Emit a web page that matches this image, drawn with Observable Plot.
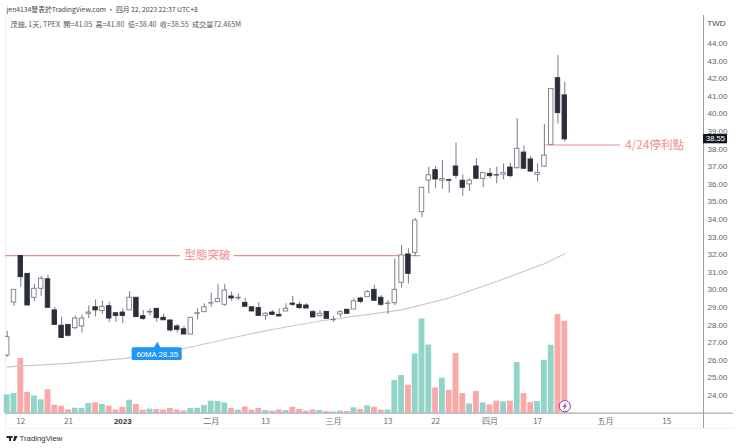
<!DOCTYPE html>
<html><head><meta charset="utf-8">
<script src="https://cdn.jsdelivr.net/npm/d3@7"></script>
<script src="https://cdn.jsdelivr.net/npm/@observablehq/plot@0.6"></script>
<style>html,body{margin:0;padding:0;background:#fff}svg{display:block}</style>
</head><body><div id="chart"></div>
<script>
const FONT = '"Liberation Sans","Noto Sans CJK TC",sans-serif';
const CJK = '"Noto Sans CJK TC","Liberation Sans",sans-serif';

// Trading-day index: 0 is 12 Dec 2022
const firstBar = -2;
const opens = [26.27,29.28,31.92,30.91,29.55,30.06,30.60,28.83,27.96,28.01,27.82,27.92,28.64,29.01,28.79,29.07,28.67,28.71,28.83,29.55,28.50,28.71,28.92,28.41,28.26,27.92,27.76,27.46,28.64,28.73,29.22,29.30,29.15,29.62,29.51,29.26,29.01,28.96,28.52,28.71,28.58,28.77,29.22,29.15,29.11,28.73,28.50,28.75,28.27,28.60,28.87,28.88,29.51,29.58,30.00,29.55,29.20,29.24,30.40,32.01,32.10,34.41,36.21,36.80,36.21,36.23,37.01,36.20,35.99,37.01,36.31,36.59,36.51,36.54,36.95,36.91,37.80,37.41,36.54,37.01,38.24,42.03,41.05];
const highs = [27.65,30.00,31.92,30.91,30.30,30.76,30.83,29.01,28.45,28.01,28.52,28.56,29.09,29.43,29.35,29.30,28.67,28.92,29.89,29.55,28.83,28.90,28.92,28.60,28.26,28.03,27.92,28.41,28.92,29.21,29.81,30.30,30.29,29.87,29.77,29.52,29.01,29.26,28.71,28.83,28.92,29.21,29.62,29.30,29.21,28.83,28.83,28.75,28.49,28.83,28.87,29.49,29.58,29.96,30.25,29.68,29.39,31.76,32.52,32.33,34.05,35.80,36.97,37.01,37.35,36.31,38.35,36.54,36.31,37.46,36.68,36.91,36.97,37.16,37.20,39.72,38.18,37.59,37.16,39.39,41.42,43.31,41.80];
const lows = [26.16,29.07,30.15,29.11,29.35,29.62,28.98,28.01,27.27,27.31,27.73,27.54,28.37,28.45,28.60,28.14,28.14,28.07,28.83,28.45,28.26,28.52,28.16,28.27,27.62,27.54,27.46,27.46,28.29,28.73,29.01,29.30,29.07,29.35,29.39,29.04,28.77,28.52,28.26,28.54,28.45,28.77,29.05,28.88,28.94,28.43,28.45,28.35,28.16,28.41,28.64,28.88,29.21,29.58,29.38,29.05,28.60,29.11,30.09,30.34,31.89,34.09,35.46,35.74,35.72,35.49,36.31,35.32,35.59,36.25,35.80,36.31,36.02,36.25,36.37,36.87,36.84,36.69,36.12,36.95,38.24,39.43,38.40];
const closes = [27.31,30.00,30.72,29.11,30.06,30.63,28.98,28.01,27.27,27.39,28.37,28.37,28.71,28.83,29.04,28.37,28.52,28.52,29.55,28.45,28.35,28.75,28.39,28.27,27.69,27.73,27.46,28.41,28.67,29.01,29.24,29.47,29.96,29.51,29.55,29.04,28.77,28.52,28.64,28.58,28.49,28.92,29.15,28.96,28.94,28.43,28.64,28.35,28.30,28.73,28.64,29.35,29.32,29.87,29.38,29.15,29.22,30.00,31.96,30.91,33.94,35.80,36.51,36.27,36.29,36.20,36.48,35.80,36.21,36.31,36.63,36.46,36.50,36.63,36.46,38.01,36.88,36.72,36.65,37.63,41.42,40.04,38.55];
const volumes = [14.4,15.5,43.1,16.3,13.6,10.5,18.4,6.3,5.5,2.6,3.9,3.7,7.6,8.1,6.9,5.5,2.6,4.7,10.2,6.9,2.4,3.2,2.9,2.6,3.7,2.6,1.8,3.7,3.9,6.1,9.5,9.2,8.1,3.7,2.4,5.0,2.4,3.7,2.1,1.6,2.6,2.1,4.7,2.9,1.6,2.6,2.1,1.3,1.0,1.6,1.3,4.2,2.9,5.8,4.7,2.4,2.6,25.8,29.7,22.1,46.7,74.3,53.8,19.9,27.6,18.1,47.0,15.5,7.3,17.1,8.1,6.5,9.5,8.9,9.5,39.9,15.5,8.4,9.2,41.7,53.6,77.7,72.465];

const maIndex = [-2,7,15,20,24,34,37,44,56,63,70,72,75,77,78,80];
const maValues = [25.62,25.82,26.09,26.39,26.67,27.52,27.75,28.23,28.86,29.54,30.47,30.76,31.2,31.48,31.67,32.05];

const priceTicks = d3.range(24,45);
const xTickIndex = [0,7,28,36,46,54,61,69,76,86,95];
const xTickLabels = ["12","21","二月","13","三月","13","22","四月","17","五月","15"];
const yearTickIndex = [15];
const yearTickLabels = ["2023"];

const header = "jen4134發表於TradingView.com • 四月 22, 2023 22:37 UTC+8";
const legend = "茂迪, 1天, TPEX\u00a0\u00a0開=41.05\u00a0\u00a0高=41.80\u00a0\u00a0低=38.40\u00a0\u00a0收=38.55\u00a0\u00a0成交量72.465M";
const breakoutPrice = 31.95, breakoutText = "型態突破";
const targetPrice = 38.23, targetText = "4/24停利點";
const lastPrice = 38.55;
const maLabel = "60MA 28.35";

// frame limits, in index and price units
const xMin = -2.25, xMax = 100.4, yMin = 22.99, yMax = 45.59, yLow = 22.12;

const bars = opens.map((o,k)=>({i:k+firstBar,o,h:highs[k],l:lows[k],c:closes[k],v:volumes[k],up:closes[k]>=o}));
const ma = maIndex.map((i,k)=>({i,p:maValues[k]}));
// volume pane shares the frame: zero at its floor, 1 M = 0.0721 on the price axis
const volToY = d3.scaleLinear().domain([0,100]).range([yMin,yMin+7.21]);

const GREY="#787b86", DARK="#2a2e39", PINK="#f49c9c", LINE="#f28a8a", AXIS="#9a9da6", TXT="#55585f";

const bolt = {draw(c){c.moveTo(1.6,-4);c.lineTo(-2.4,0.7);c.lineTo(-0.2,0.7);c.lineTo(-1.6,4);c.lineTo(2.4,-0.7);c.lineTo(0.2,-0.7);c.closePath();}};
const tvLogo = {draw(c){
  c.moveTo(-5.5,-2.5);c.lineTo(-1,-2.5);c.lineTo(-1,2.5);c.lineTo(-3,2.5);c.lineTo(-3,-0.5);c.lineTo(-5.5,-0.5);c.closePath();
  c.moveTo(0.8,-1.5);c.arc(-0.2,-1.5,1,0,2*Math.PI);c.closePath();
  c.moveTo(2.2,-2.5);c.lineTo(5.5,-2.5);c.lineTo(3.2,2.5);c.lineTo(1,2.5);c.closePath();
}};

const fig = Plot.plot({
  width:740, height:448,
  marginLeft:5, marginRight:37, marginTop:15, marginBottom:35.3,
  style:{fontFamily:FONT, background:"#fff", overflow:"visible"},
  x:{domain:[xMin,xMax]},
  y:{domain:[yMin,yMax]},
  marks:[
    Plot.ruleX([xMin],{y1:yLow,y2:yMax,stroke:"#eeeeee",strokeWidth:1}),
    Plot.ruleY([yLow],{x1:xMin,x2:104.8,stroke:"#f3f3f3",strokeWidth:1}),

    Plot.rect(bars,{x1:d=>d.i-0.43,x2:d=>d.i+0.43,y1:()=>yMin,y2:d=>volToY(d.v),fill:d=>d.up?"#93d4c9":"#f8a9a8"}),

    Plot.ruleY([yMin],{x1:xMin,x2:104.8,stroke:"#a8abb4",strokeWidth:1.3}),
    Plot.ruleX([xMax],{y1:yLow,y2:yMax,stroke:AXIS,strokeWidth:1}),

    Plot.line(ma,{x:"i",y:"p",stroke:"#c8c8c8",strokeWidth:1.1,clip:true}),

    Plot.ruleY([breakoutPrice],{x1:xMin,x2:23.5,stroke:LINE,strokeWidth:1.2}),
    Plot.ruleY([breakoutPrice],{x1:31.4,x2:58.8,stroke:LINE,strokeWidth:1.2}),
    Plot.ruleY([targetPrice],{x1:77,x2:88.2,stroke:LINE,strokeWidth:1.2}),

    Plot.ruleX(bars,{x:"i",y1:"l",y2:"h",stroke:GREY,strokeWidth:1,clip:true}),
    Plot.rect(bars,{x1:d=>d.i-0.33,x2:d=>d.i+0.33,y1:"o",y2:"c",fill:d=>d.up?"#fff":DARK,stroke:d=>d.up?GREY:DARK,strokeWidth:0.9,clip:true}),

    Plot.text([breakoutText],{x:()=>27.45,y:()=>breakoutPrice,text:d=>d,fontSize:11.5,fontWeight:500,fill:PINK,fontFamily:CJK}),
    Plot.text([targetText],{x:()=>88.9,y:()=>targetPrice,text:d=>d,textAnchor:"start",fontSize:11.5,fontWeight:500,fill:PINK,fontFamily:CJK}),

    Plot.axisY({anchor:"right",ticks:priceTicks,tickFormat:d=>d.toFixed(2),tickSize:0,tickPadding:4,fontSize:8,color:"#5d606b",label:null}),
    Plot.axisX({ticks:xTickIndex,tickFormat:i=>xTickLabels[xTickIndex.indexOf(i)],tickSize:0,tickPadding:5,fontSize:8,color:"#6b6e78",label:null,fontFamily:CJK}),
    Plot.axisX({ticks:yearTickIndex,tickFormat:i=>yearTickLabels[yearTickIndex.indexOf(i)],tickSize:0,tickPadding:5,fontSize:8,fontWeight:"bold",color:"#333",label:null}),

    Plot.text(["TWD"],{x:()=>102.3,y:()=>45.16,text:d=>d,fontSize:8,fill:"#444"}),

    Plot.rect([lastPrice],{x1:()=>xMax,x2:()=>103.94,y1:d=>d-0.25,y2:d=>d+0.28,fill:"#131722"}),
    Plot.text([lastPrice],{x:()=>102.17,y:d=>d+0.02,text:d=>d.toFixed(2),fontSize:7.6,fill:"#fff"}),

    Plot.dot([maLabel],{x:()=>20.06,y:()=>26.75,r:3.4,symbol:"triangle",fill:"#2196f3"}),
    Plot.rect([maLabel],{x1:()=>16.38,x2:()=>23.74,y1:()=>25.99,y2:()=>26.71,fill:"#2196f3",rx:1.5}),
    Plot.text([maLabel],{x:()=>20.06,y:()=>26.35,text:d=>d,fontSize:7.8,fill:"#fff"}),

    Plot.dot([80],{x:d=>d,y:()=>23.39,r:5.6,fill:"#fff",stroke:"#8e3fb0",strokeWidth:1}),
    Plot.dot([80],{x:d=>d,y:()=>23.39,symbol:bolt,fill:"#8e3fb0"}),

    Plot.text([header],{frameAnchor:"top-left",dx:1,dy:-6,text:d=>d,textAnchor:"start",lineAnchor:"middle",fontSize:6.8,fill:"#444",fontFamily:CJK}),
    Plot.text([legend],{frameAnchor:"top-left",dx:5,dy:9,text:d=>d,textAnchor:"start",lineAnchor:"middle",fontSize:7.15,fill:TXT,fontFamily:CJK}),

    Plot.dot([0],{x:()=>-1.29,y:()=>21.55,symbol:tvLogo,fill:"#222"}),
    Plot.text(["TradingView"],{x:()=>-0.19,y:()=>21.55,text:d=>d,textAnchor:"start",fontSize:7.8,fill:"#333"})
  ]
});
document.getElementById("chart").appendChild(fig);
</script></body></html>
